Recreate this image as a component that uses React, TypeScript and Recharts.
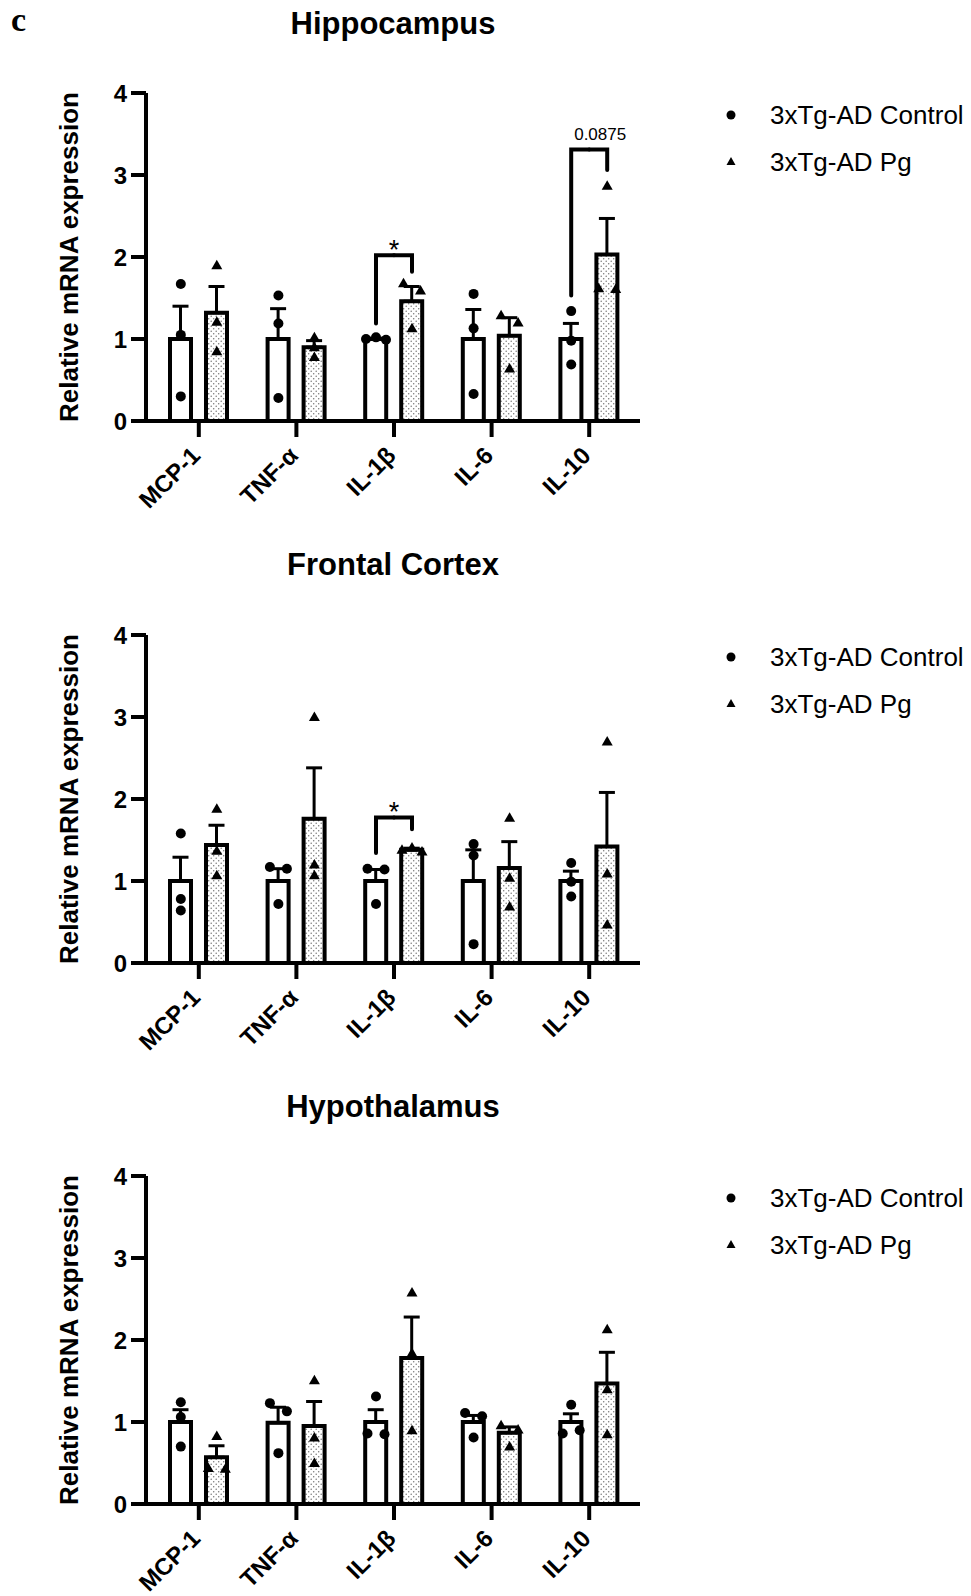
import React from 'react';
import { ComposedChart, Bar, ErrorBar, Scatter, XAxis, YAxis, ReferenceLine, Legend } from 'recharts';

const cytokines = ['MCP-1', 'TNF-α', 'IL-1β', 'IL-6', 'IL-10'];
const yTicks = [0, 1, 2, 3, 4];
const groupNames = ['3xTg-AD Control', '3xTg-AD Pg'];
const regionTitles = ['Hippocampus', 'Frontal Cortex', 'Hypothalamus'];

// Hippocampus
const hipCtrlMean = [1.0, 1.0, 1.0, 1.0, 1.0];
const hipCtrlSem = [0.4, 0.37, 0.01, 0.36, 0.19];
const hipPgMean = [1.32, 0.9, 1.46, 1.04, 2.03];
const hipPgSem = [0.32, 0.08, 0.18, 0.22, 0.44];
const hipCtrlPts = [[1.67, 1.05, 0.3], [1.53, 1.19, 0.28], [1.0, 1.02, 0.99], [1.55, 1.13, 0.33], [1.34, 0.98, 0.69]];
const hipPgPts = [[1.9, 1.21, 0.85], [1.02, 0.9, 0.78], [1.68, 1.59, 1.13], [1.29, 1.2, 0.64], [2.87, 1.62, 1.61]];
const hipStats = [
  { cat: 'IL-1β', left: 1.19, right: 1.82, top: 2.02, label: '*' },
  { cat: 'IL-10', left: 1.53, right: 3.06, top: 3.31, label: '0.0875' },
];

// Frontal cortex
const fcCtrlMean = [1.0, 1.0, 1.0, 1.0, 1.0];
const fcCtrlSem = [0.29, 0.15, 0.14, 0.38, 0.12];
const fcPgMean = [1.44, 1.76, 1.38, 1.16, 1.42];
const fcPgSem = [0.24, 0.62, 0.02, 0.32, 0.66];
const fcCtrlPts = [[1.58, 0.78, 0.64], [1.17, 1.15, 0.72], [1.15, 1.14, 0.72], [1.45, 1.31, 0.23], [1.22, 0.99, 0.81]];
const fcPgPts = [[1.88, 1.37, 1.07], [3.0, 1.2, 1.07], [1.38, 1.41, 1.36], [1.77, 1.04, 0.69], [2.7, 1.09, 0.47]];
const fcStats = [{ cat: 'IL-1β', left: 1.34, right: 1.63, top: 1.775, label: '*' }];

// Hypothalamus
const hyCtrlMean = [1.0, 0.99, 1.0, 1.0, 1.0];
const hyCtrlSem = [0.15, 0.19, 0.15, 0.08, 0.1];
const hyPgMean = [0.57, 0.95, 1.78, 0.87, 1.47];
const hyPgSem = [0.14, 0.3, 0.5, 0.07, 0.38];
const hyCtrlPts = [[1.24, 1.06, 0.7], [1.23, 1.13, 0.62], [1.31, 0.86, 0.85], [1.11, 1.07, 0.81], [1.21, 0.86, 0.9]];
const hyPgPts = [[0.83, 0.44, 0.43], [1.51, 0.81, 0.5], [2.58, 1.84, 0.9], [0.96, 0.91, 0.7], [2.13, 1.4, 0.85]];
const hyStats: any[] = [];

const FONT = '"Liberation Sans", Arial, Helvetica, sans-serif';
const BAR_SIZE = 21;
const BAR_GAP = 15;
const SHIFT = (BAR_SIZE + BAR_GAP) / 2;
const PANEL_TOPS = [0, 541.5, 1083];

// horizontal spread for markers that would overlap (GraphPad style)
function spread(values: number[]): number[] {
  const order = values.map((_, i) => i).sort((a, b) => values[a] - values[b]);
  const clusters: number[][] = [];
  order.forEach((i) => {
    const last = clusters[clusters.length - 1];
    if (last && values[i] - values[last[last.length - 1]] < 0.105) last.push(i);
    else clusters.push([i]);
  });
  const out = values.map(() => 0);
  clusters.forEach((c) => {
    const m = [...c].sort((a, b) => a - b);
    const step = m.length === 2 ? 17 : 10;
    m.forEach((i, k) => {
      out[i] = (k - (m.length - 1) / 2) * step;
    });
  });
  return out;
}

const panels = [
  { ctrlMean: hipCtrlMean, ctrlSem: hipCtrlSem, pgMean: hipPgMean, pgSem: hipPgSem, ctrlPts: hipCtrlPts, pgPts: hipPgPts, stats: hipStats },
  { ctrlMean: fcCtrlMean, ctrlSem: fcCtrlSem, pgMean: fcPgMean, pgSem: fcPgSem, ctrlPts: fcCtrlPts, pgPts: fcPgPts, stats: fcStats },
  { ctrlMean: hyCtrlMean, ctrlSem: hyCtrlSem, pgMean: hyPgMean, pgSem: hyPgSem, ctrlPts: hyCtrlPts, pgPts: hyPgPts, stats: hyStats },
];

function buildRows(p: any) {
  return cytokines.map((name, i) => {
    const row: any = {
      name,
      ctrl: p.ctrlMean[i],
      pg: p.pgMean[i],
      ctrlErr: [0, p.ctrlSem[i]],
      pgErr: [0, p.pgSem[i]],
      cShift: spread(p.ctrlPts[i]),
      pShift: spread(p.pgPts[i]),
    };
    p.ctrlPts[i].forEach((v: number, k: number) => (row['c' + k] = v));
    p.pgPts[i].forEach((v: number, k: number) => (row['p' + k] = v));
    return row;
  });
}

const makeDot = (k: number) => (props: any) => {
  const { cx, cy, payload } = props;
  if (cx == null || cy == null) return <g />;
  return <circle cx={cx - SHIFT + payload.cShift[k]} cy={cy} r={5} fill="#000" />;
};

const makeTri = (k: number) => (props: any) => {
  const { cx, cy, payload } = props;
  if (cx == null || cy == null) return <g />;
  const x = cx + SHIFT + payload.pShift[k];
  return <path d={`M${x},${cy - 5.5}L${x + 5.5},${cy + 4}L${x - 5.5},${cy + 4}Z`} fill="#000" />;
};

const makeBracket = (side: number, label?: string) => (props: any) => {
  const { x1, y1, y2 } = props;
  if (x1 == null) return <g />;
  const xs = x1 + side * SHIFT;
  return (
    <g>
      <path
        d={`M${xs},${y1}L${xs},${y2}L${x1},${y2}`}
        fill="none"
        stroke="#000"
        strokeWidth={4}
        strokeLinecap="round"
        strokeLinejoin="miter"
      />
      {label === '*' && (
        <text x={x1} y={y2 + 4} textAnchor="middle" fontSize={27} fill="#000" fontFamily={FONT}>
          *
        </text>
      )}
      {label && label !== '*' && (
        <text x={x1 + 11} y={y2 - 10} textAnchor="middle" fontSize={17} fill="#000" fontFamily={FONT}>
          {label}
        </text>
      )}
    </g>
  );
};

const XTick = (props: any) => {
  const { x, y, payload } = props;
  return (
    <text
      x={0}
      y={0}
      transform={`translate(${x + 3},${y + 18}) rotate(-45)`}
      textAnchor="end"
      fontSize={24}
      fontWeight={700}
      fill="#000"
      fontFamily={FONT}
    >
      {payload.value}
    </text>
  );
};

const YTick = (props: any) => {
  const { x, y, payload } = props;
  return (
    <text x={x} y={y + 8.5} textAnchor="end" fontSize={24} fontWeight={700} fill="#000" fontFamily={FONT}>
      {payload.value}
    </text>
  );
};

const LegendBox = () => (
  <svg width={261} height={100} style={{ display: 'block' }}>
    <circle cx={21} cy={25} r={4.5} fill="#000" />
    <text x={60} y={34} fontSize={26} fill="#000" fontFamily={FONT}>
      {groupNames[0]}
    </text>
    <path d="M21,67L25.5,75L16.5,75Z" fill="#000" />
    <text x={60} y={81} fontSize={26} fill="#000" fontFamily={FONT}>
      {groupNames[1]}
    </text>
  </svg>
);

function RegionChart({ idx }: { idx: number }) {
  const p = panels[idx];
  const rows = buildRows(p);
  return (
    <div style={{ position: 'absolute', left: 0, top: PANEL_TOPS[idx] }}>
      <ComposedChart
        width={971}
        height={541}
        data={rows}
        barGap={BAR_GAP}
        margin={{ top: 93, right: 331, bottom: 20, left: 0 }}
      >
        <XAxis
          dataKey="name"
          padding={{ left: 4, right: 2 }}
          height={100}
          tickSize={16}
          tickMargin={2}
          interval={0}
          axisLine={{ stroke: '#000', strokeWidth: 4 }}
          tickLine={{ stroke: '#000', strokeWidth: 4 }}
          tick={XTick}
        />
        <YAxis
          domain={[0, 4]}
          ticks={yTicks}
          interval={0}
          width={146}
          tickSize={15}
          tickMargin={4}
          axisLine={{ stroke: '#000', strokeWidth: 4 }}
          tickLine={{ stroke: '#000', strokeWidth: 4 }}
          tick={YTick}
          label={{
            value: 'Relative mRNA expression',
            angle: -90,
            position: 'insideLeft',
            offset: 69,
            style: { textAnchor: 'middle', fontSize: 26, fontWeight: 700, fill: '#000' },
          }}
        />
        <Bar dataKey="ctrl" barSize={BAR_SIZE} fill="#fff" stroke="#000" strokeWidth={4} isAnimationActive={false}>
          <ErrorBar dataKey="ctrlErr" width={8} strokeWidth={3} stroke="#000" direction="y" />
        </Bar>
        <Bar dataKey="pg" barSize={BAR_SIZE} fill="url(#dots)" stroke="#000" strokeWidth={4} isAnimationActive={false}>
          <ErrorBar dataKey="pgErr" width={8} strokeWidth={3} stroke="#000" direction="y" />
        </Bar>
        {[0, 1, 2].map((k) => (
          <Scatter key={'c' + k} dataKey={'c' + k} shape={makeDot(k)} isAnimationActive={false} />
        ))}
        {[0, 1, 2].map((k) => (
          <Scatter key={'p' + k} dataKey={'p' + k} shape={makeTri(k)} isAnimationActive={false} />
        ))}
        {p.stats.map((s: any) => [
          <ReferenceLine
            key={s.cat + 'l'}
            segment={[{ x: s.cat, y: s.left }, { x: s.cat, y: s.top }]}
            shape={makeBracket(-1)}
          />,
          <ReferenceLine
            key={s.cat + 'r'}
            segment={[{ x: s.cat, y: s.right }, { x: s.cat, y: s.top }]}
            shape={makeBracket(1, s.label)}
          />,
        ])}
        <Legend
          layout="horizontal"
          verticalAlign="middle"
          align="center"
          content={() => <LegendBox />}
          wrapperStyle={{ position: 'absolute', left: 710, top: 90, width: 261, height: 100 }}
        />
      </ComposedChart>
    </div>
  );
}

export default function App() {
  return (
    <div
      style={{
        position: 'absolute',
        left: 0,
        top: 0,
        width: 971,
        height: 1596,
        background: '#fff',
        fontFamily: FONT,
        overflow: 'hidden',
      }}
    >
      <svg width={0} height={0} style={{ position: 'absolute' }}>
        <defs>
          <pattern id="dots" width={5} height={5} patternUnits="userSpaceOnUse">
            <rect width={5} height={5} fill="#fff" />
            <circle cx={1.2} cy={1.2} r={0.75} fill="#777" />
            <circle cx={3.7} cy={3.7} r={0.75} fill="#777" />
          </pattern>
        </defs>
      </svg>
      {[0, 1, 2].map((i) => (
        <RegionChart key={i} idx={i} />
      ))}
      <svg width={971} height={1596} style={{ position: 'absolute', left: 0, top: 0, pointerEvents: 'none' }}>
        <text x={11} y={31} fontSize={34} fontWeight={700} fontFamily='"Liberation Serif", "Times New Roman", serif'>
          c
        </text>
        {regionTitles.map((t, i) => (
          <text
            key={t}
            x={393}
            y={PANEL_TOPS[i] + 33.5}
            textAnchor="middle"
            fontSize={31}
            fontWeight={700}
            fontFamily={FONT}
          >
            {t}
          </text>
        ))}
      </svg>
    </div>
  );
}
